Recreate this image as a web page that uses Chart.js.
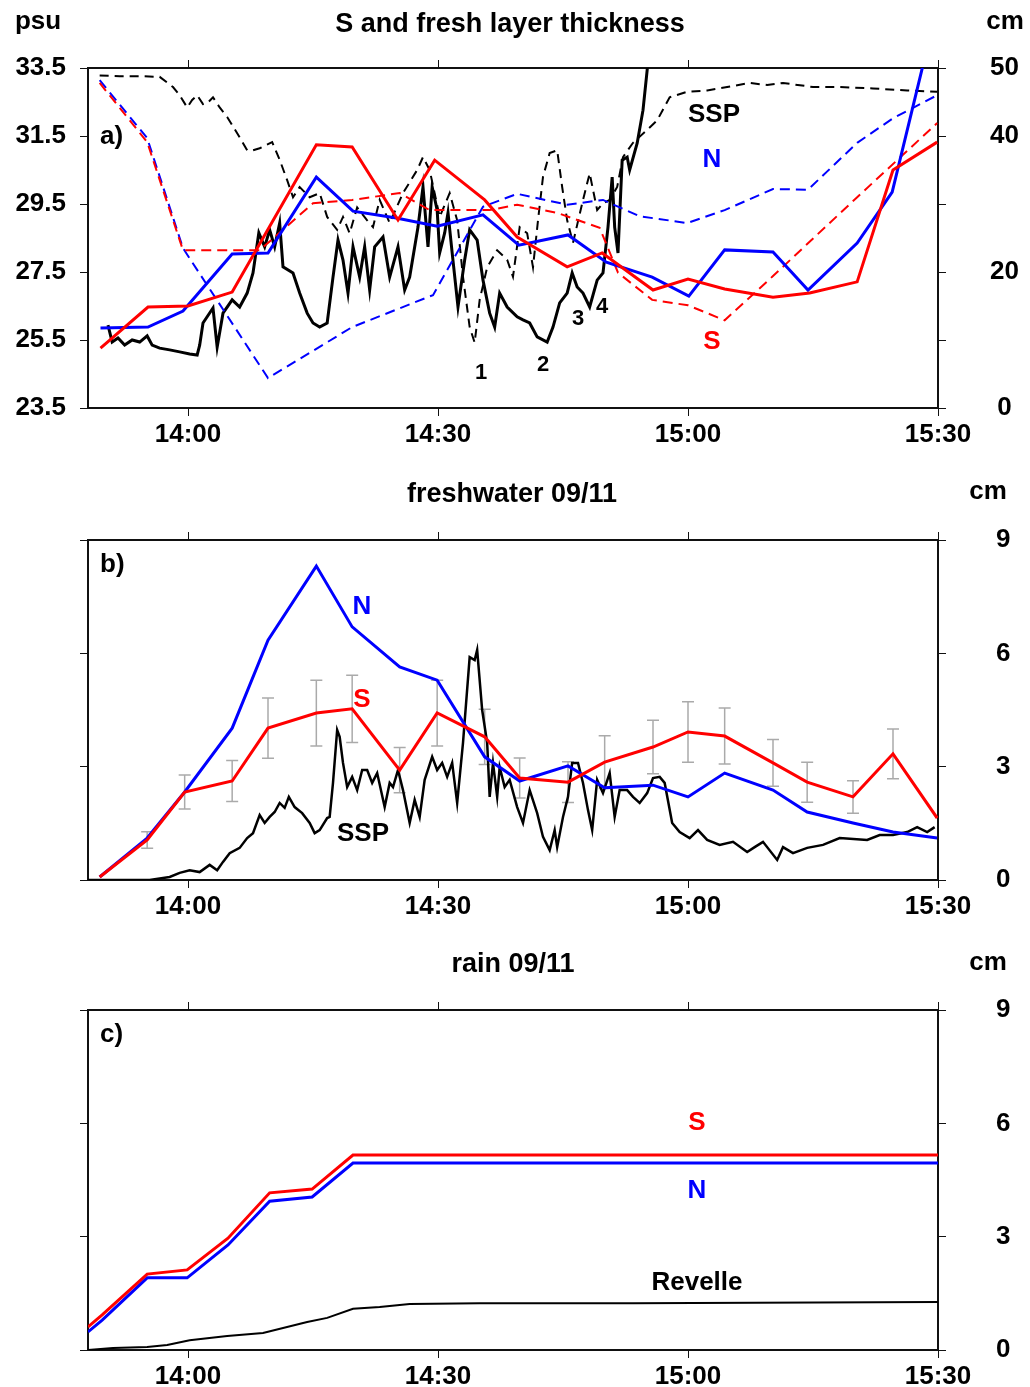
<!DOCTYPE html>
<html>
<head>
<meta charset="utf-8">
<script src="https://cdn.jsdelivr.net/npm/chart.js@4/dist/chart.umd.min.js"></script>
<style>
  body { margin: 0; background: #fff; width: 1030px; height: 1387px; position: relative; overflow: hidden; }
  canvas { position: absolute; left: 0; }
</style>
</head>
<body>
<canvas id="ca" width="1030" height="460" style="top:0"></canvas>
<canvas id="cb" width="1030" height="470" style="top:460px"></canvas>
<canvas id="cc" width="1030" height="457" style="top:930px"></canvas>
<script>
// time axis: minutes after 14:00
var timeTicks = [0, 30, 60, 90];
var timeLabels = ['14:00', '14:30', '15:00', '15:30'];
var psuTicks = [23.5, 25.5, 27.5, 29.5, 31.5, 33.5];
var cmTicksA = [0, 10, 20, 30, 40, 50];
var cmLabelsA = ['0', '', '20', '', '40', '50'];
var cmTicksB = [0, 3, 6, 9];

// a) salinity (psu) and fresh layer thickness (cm)
var aS_t = [-10.5, -4.8, 0, 5.3, 15.4, 19.7, 25.2, 29.6, 35.6, 39.5, 45.5, 49.7, 55.8, 60, 64.4, 70.2, 74.6, 80.3, 84.6, 89.9];
var aS_psu = [25.26, 26.47, 26.5, 26.91, 31.24, 31.18, 29.03, 30.79, 29.62, 28.53, 27.65, 28.06, 26.97, 27.29, 27.0, 26.76, 26.88, 27.21, 30.5, 31.32];
var aN_t = [-10.5, -4.8, -0.6, 5.3, 9.6, 15.4, 19.8, 25, 29.9, 35.4, 39.7, 45.6, 50.2, 55.7, 60.1, 64.4, 70.2, 74.4, 80.3, 84.5, 90];
var aN_psu = [25.85, 25.88, 26.35, 28.03, 28.06, 30.29, 29.29, 29.09, 28.85, 29.18, 28.29, 28.59, 27.79, 27.35, 26.79, 28.15, 28.09, 26.97, 28.35, 29.85, 35.4];
var aSd_t = [-10.6, -4.9, -0.6, 8.6, 15, 19.7, 25.4, 29, 36.2, 39.5, 44.3, 49.4, 51.6, 55.7, 60, 64.4, 70.2, 80.3, 89.9];
var aSd_cm = [47.8, 39.1, 23.2, 23.2, 30.1, 30.6, 31.6, 29.1, 29.1, 29.9, 28.7, 26.5, 19.9, 15.9, 15.1, 12.9, 19.4, 31.0, 41.9];
var aNd_t = [-10.6, -4.9, -0.6, 9.6, 19.7, 29.4, 35.4, 39.5, 45.5, 49.8, 54.2, 59.9, 64.4, 70.2, 74.4, 80.3, 84.6, 89.9];
var aNd_cm = [48.2, 39.7, 23.5, 4.4, 11.9, 16.6, 29.6, 31.5, 29.9, 30.6, 28.2, 27.2, 29.1, 32.2, 32.1, 39.0, 42.6, 46.0];
var ssp_t = [-9.6, -9.1, -8.4, -7.6, -6.7, -5.8, -4.9, -4.3, -3.4, -2.2, -1.0, 0.2, 1.1, 1.4, 1.8, 3.0, 3.5, 4.2, 5.3, 6.2,
  7.1, 7.8, 8.5, 9.2, 9.8, 10.4, 11.0, 11.4, 12.6, 13.4, 14.3, 15.0, 15.8, 16.7, 17.4, 18.0, 18.6, 19.2, 19.8, 20.6,
  21.2, 21.8, 22.4, 23.4, 24.2, 25.2, 26.0, 26.6, 27.6, 28.2, 28.8, 29.3, 29.9, 30.2, 30.8, 31.2, 31.7, 32.4, 33.2, 33.8,
  34.7, 35.4, 36.2, 36.8, 37.4, 38.3, 39.5, 40.2, 41.0, 41.9, 43.1, 43.8, 44.6, 45.5, 46.1, 46.7, 47.4, 48.2, 49.1, 49.8,
  50.4, 50.9, 51.2, 51.6, 52.1, 52.7, 53.0, 53.9, 54.6, 55.1, 55.4];
var ssp_psu = [25.94, 25.44, 25.56, 25.35, 25.5, 25.44, 25.62, 25.35, 25.26, 25.21, 25.15, 25.09, 25.06, 25.35, 26.0, 26.44, 25.29, 26.29, 26.68, 26.47,
  26.88, 27.47, 28.65, 28.24, 28.74, 28.24, 28.94, 27.65, 27.47, 26.88, 26.29, 26.0, 25.88, 26.0, 27.35, 28.44, 27.85, 26.88, 28.24, 27.35,
  28.24, 26.97, 28.24, 28.53, 27.35, 28.24, 26.97, 27.35, 28.82, 30.0, 28.24, 30.0, 29.32, 28.06, 28.65, 29.24, 28.06, 26.47, 27.85, 28.74,
  28.44, 27.26, 26.29, 25.88, 26.88, 26.47, 26.18, 26.09, 26.0, 25.59, 25.44, 25.88, 26.59, 26.88, 27.47, 27.06, 26.88, 26.47, 27.26, 27.47,
  28.82, 30.29, 28.82, 28.06, 30.79, 30.88, 30.5, 31.29, 32.26, 33.44, 34.3];
var sspd_t = [-10.6, -8.2, -5.8, -3.4, -1.8, -1.0, -0.1, 0.5, 1.1, 1.8, 2.3, 3.0, 3.8, 4.7, 5.5, 6.2, 7.1, 7.8, 8.6, 10.1,
  11.0, 11.9, 12.6, 13.4, 14.6, 15.8, 16.7, 17.9, 18.6, 19.4, 20.3, 21.5, 22.2, 23.0, 24.2, 25.8, 27.5, 28.2, 29.0, 30.2,
  31.4, 32.3, 33.0, 33.8, 34.4, 35.0, 35.9, 37.1, 38.3, 39.0, 39.8, 40.7, 41.4, 42.0, 42.6, 43.4, 44.3, 44.9, 45.5, 46.2,
  47.4, 48.2, 49.1, 49.8, 50.6, 51.5, 52.2, 53.4, 55.1, 56.3, 57.8, 59.9, 62.3, 64.7, 67.4, 69.5, 71.4, 75.0, 78.2, 82.2,
  86.3, 89.9];
var sspd_cm = [48.9, 48.8, 48.8, 48.7, 47.2, 46.0, 44.2, 45.3, 46.0, 44.7, 44.8, 45.7, 44.2, 42.8, 41.2, 39.8, 37.9, 37.9, 38.2, 39.1,
  36.5, 33.5, 31.0, 32.5, 31.0, 31.6, 28.1, 26.2, 28.1, 25.7, 29.5, 27.6, 26.6, 30.6, 27.2, 31.6, 35.0, 36.9, 35.0, 28.1,
  31.6, 27.6, 19.3, 11.9, 9.6, 15.9, 20.7, 23.2, 21.8, 19.3, 26.6, 25.7, 20.7, 27.6, 34.0, 37.5, 37.9, 32.5, 27.6, 24.3,
  30.6, 34.5, 29.1, 30.1, 30.6, 32.5, 36.9, 39.0, 40.9, 42.3, 45.7, 46.5, 46.7, 47.2, 47.8, 47.5, 47.8, 47.2, 47.2, 47.0,
  46.7, 46.5];

// b) freshwater 09/11 (cm)
var b_t = [-10.6, -4.9, -0.4, 5.3, 9.6, 15.4, 19.7, 25.4, 29.9, 35.6, 39.8, 45.6, 50.0, 55.8, 60.0, 64.4, 70.2, 74.3, 79.8, 84.6, 89.9];
var bN_cm = [0.08, 1.11, 2.33, 4.02, 6.35, 8.31, 6.70, 5.64, 5.29, 3.26, 2.62, 3.02, 2.44, 2.51, 2.20, 2.83, 2.38, 1.80, 1.51, 1.27, 1.11];
var bS_cm = [0.08, 1.06, 2.33, 2.62, 4.02, 4.42, 4.53, 2.91, 4.42, 3.79, 2.70, 2.59, 3.12, 3.52, 3.92, 3.81, 3.10, 2.59, 2.20, 3.34, 1.64];
var bS_err = [null, 0.22, 0.45, 0.54, 0.8, 0.87, 0.89, 0.6, 0.87, 0.73, 0.53, 0.54, 0.7, 0.71, 0.8, 0.74, 0.62, 0.53, 0.43, 0.66, null];
var bSSP_t = [-12, -4.6, -2.2, -1.0, 0.2, 1.4, 2.6, 3.5, 4.2, 5.0, 6.2, 7.1, 7.8, 8.6, 9.2, 9.8, 10.4, 11.0, 11.6, 12.1,
  12.8, 13.7, 14.6, 15.2, 15.8, 16.7, 17.0, 17.4, 17.9, 18.2, 18.6, 19.1, 19.7, 20.3, 20.9, 21.5, 22.1, 22.7, 23.6, 24.2,
  24.6, 25.2, 25.8, 26.6, 27.2, 27.8, 28.4, 29.3, 29.9, 30.5, 31.1, 31.7, 32.3, 33.0, 33.8, 34.4, 34.7, 35.3, 35.9, 36.2,
  36.6, 37.1, 37.4, 38.0, 38.6, 39.5, 40.2, 41.0, 41.9, 42.6, 43.4, 44.0, 44.3, 45.0, 45.6, 46.1, 46.8, 47.4, 48.0, 48.5,
  49.1, 49.8, 50.6, 51.2, 51.8, 52.7, 53.4, 54.2, 55.1, 55.8, 56.6, 57.2, 58.1, 59.0, 60.2, 61.2, 62.3, 63.8, 65.4, 67.1,
  68.0, 69.0, 70.7, 71.4, 72.6, 74.3, 76.2, 78.2, 81.5, 83.0, 84.6, 86.3, 87.5, 88.7, 89.6];
var bSSP_cm = [0, 0, 0.08, 0.19, 0.26, 0.21, 0.40, 0.26, 0.48, 0.71, 0.85, 1.11, 1.24, 1.72, 1.51, 1.67, 1.80, 2.04, 1.91, 2.20,
  1.93, 1.77, 1.51, 1.24, 1.32, 1.64, 1.67, 2.57, 3.97, 3.79, 3.10, 2.46, 2.73, 2.38, 2.91, 2.91, 2.57, 2.83, 1.93, 2.57,
  2.46, 2.91, 2.38, 1.51, 2.12, 1.67, 2.65, 3.26, 2.91, 3.10, 2.73, 3.10, 2.04, 3.63, 5.90, 5.82, 6.09, 4.50, 3.63, 2.20,
  3.10, 2.20, 2.99, 2.46, 2.65, 1.93, 1.51, 2.38, 1.77, 1.14, 0.79, 1.32, 0.87, 1.67, 2.20, 3.10, 3.10, 2.57, 1.85, 1.32,
  2.65, 2.30, 2.83, 1.67, 2.38, 2.38, 2.20, 2.04, 2.30, 2.70, 2.73, 2.57, 1.51, 1.27, 1.11, 1.32, 1.06, 0.93, 1.01, 0.74,
  0.87, 1.01, 0.53, 0.87, 0.71, 0.85, 0.93, 1.11, 1.06, 1.19, 1.19, 1.27, 1.40, 1.27, 1.40];

// c) rain 09/11 (cm)
var c_t = [-12, -10.3, -4.9, -0.1, 4.8, 9.8, 14.9, 19.8, 90];
var cS_cm = [0.61, 0.93, 2.01, 2.12, 2.96, 4.16, 4.26, 5.16, 5.16];
var cN_cm = [0.48, 0.79, 1.91, 1.91, 2.78, 3.94, 4.05, 4.95, 4.95];
var rev_t = [-12, -9, -4.9, -2.5, 0.2, 4.7, 9.0, 14.3, 16.7, 19.8, 23.0, 26.6, 35.0, 53.4, 90];
var rev_cm = [0, 0.05, 0.08, 0.13, 0.26, 0.37, 0.45, 0.74, 0.85, 1.09, 1.14, 1.22, 1.24, 1.24, 1.27];

var FONT = '"Liberation Sans", Arial, sans-serif';
var RED = '#ff0000', BLUE = '#0000ff', INK = '#111';
Chart.defaults.font.family = FONT;
Chart.defaults.color = '#000';

function pts(t, v) {
    var n = Math.min(t.length, v.length), out = [];
    for (var i = 0; i < n; i++) out.push({x: t[i], y: v[i]});
    return out;
}

function line(t, v, color, width, yAxis, dash) {
    return {
        data: pts(t, v), borderColor: color, borderWidth: width, borderDash: dash || [],
        pointRadius: 0, tension: 0, fill: false, xAxisID: 'x', yAxisID: yAxis
    };
}

var gridOpts = {drawOnChartArea: false, drawTicks: true, tickLength: 8, color: INK, lineWidth: 1};
var borderOpts = {display: true, color: INK, width: 2};
var tickFont = {size: 26, weight: 'bold'};

function fixedTicks(list) {
    return function (s) { s.ticks = list.map(function (v) { return {value: v}; }); };
}

// pin the axis box sizes so every panel has the same plot frame
function fixSize(w, h) {
    return function (s) {
        if (w != null) s.width = w;
        if (h != null) s.height = h;
        s.paddingTop = 0; s.paddingBottom = 0; s.paddingLeft = 0; s.paddingRight = 0;
    };
}

function timeScales(topH, botH) {
    return {
        x: {
            type: 'linear', position: 'bottom', min: -12, max: 90,
            afterBuildTicks: fixedTicks(timeTicks),
            ticks: {font: tickFont, padding: 3, maxRotation: 0, autoSkip: false,
                callback: function (v, i) { return timeLabels[i]; }},
            grid: gridOpts, border: borderOpts,
            afterFit: fixSize(null, botH)
        },
        xt: {
            type: 'linear', position: 'top', min: -12, max: 90,
            afterBuildTicks: fixedTicks(timeTicks),
            ticks: {display: false},
            grid: gridOpts, border: borderOpts,
            afterFit: fixSize(null, topH)
        }
    };
}

var textPlugin = {
    id: 'texts',
    afterDraw: function (chart, args, opts) {
        var ctx = chart.ctx;
        ctx.save();
        (opts.items || []).forEach(function (it) {
            ctx.font = (it.weight || 'bold') + ' ' + (it.size || 26) + 'px ' + FONT;
            ctx.fillStyle = it.color || '#000';
            ctx.textAlign = it.align || 'center';
            ctx.textBaseline = 'middle';
            ctx.fillText(it.text, it.x, it.y);
        });
        ctx.restore();
    }
};

var errPlugin = {
    id: 'errbars',
    beforeDatasetsDraw: function (chart, args, opts) {
        if (!opts.t) return;
        var xs = chart.scales.x, ys = chart.scales[opts.axis], ctx = chart.ctx;
        ctx.save();
        ctx.strokeStyle = opts.color;
        ctx.lineWidth = 1.5;
        for (var i = 0; i < opts.t.length; i++) {
            if (opts.e[i] == null) continue;
            var px = xs.getPixelForValue(opts.t[i]);
            var y1 = ys.getPixelForValue(opts.v[i] - opts.e[i]);
            var y2 = ys.getPixelForValue(opts.v[i] + opts.e[i]);
            ctx.beginPath();
            ctx.moveTo(px, y1); ctx.lineTo(px, y2);
            ctx.moveTo(px - 6, y1); ctx.lineTo(px + 6, y1);
            ctx.moveTo(px - 6, y2); ctx.lineTo(px + 6, y2);
            ctx.stroke();
        }
        ctx.restore();
    }
};
Chart.register(textPlugin, errPlugin);

function baseOptions(scales, texts, err) {
    return {
        responsive: false, animation: false, devicePixelRatio: 1,
        layout: {padding: 0, autoPadding: false},
        scales: scales,
        plugins: {legend: {display: false}, tooltip: {enabled: false}, title: {display: false},
            texts: {items: texts}, errbars: err || {}}
    };
}

// panel a
var scalesA = timeScales(68, 52);
scalesA.y = {
    position: 'left', min: 23.5, max: 33.5,
    afterBuildTicks: fixedTicks(psuTicks),
    ticks: {font: tickFont, padding: 14, callback: function (v) { return v.toFixed(1); }},
    grid: gridOpts, border: borderOpts,
    afterFit: fixSize(88, null)
};
scalesA.yr = {
    position: 'right', min: 0, max: 50,
    afterBuildTicks: fixedTicks(cmTicksA),
    ticks: {font: tickFont, padding: 44, crossAlign: 'center', callback: function (v, i) { return cmLabelsA[i]; }},
    grid: gridOpts, border: borderOpts,
    afterFit: fixSize(92, null)
};
new Chart(document.getElementById('ca'), {
    type: 'line',
    data: {datasets: [
        line(aS_t, aS_psu, RED, 3, 'y'),
        line(aN_t, aN_psu, BLUE, 3, 'y'),
        line(aSd_t, aSd_cm, RED, 2, 'yr', [10, 6]),
        line(aNd_t, aNd_cm, BLUE, 2, 'yr', [10, 6]),
        line(ssp_t, ssp_psu, '#000', 3, 'y'),
        line(sspd_t, sspd_cm, '#000', 2, 'yr', [9, 6])
    ]},
    options: baseOptions(scalesA, [
        {text: 'S and fresh layer thickness', x: 510, y: 25, size: 27},
        {text: 'psu', x: 38, y: 22},
        {text: 'cm', x: 1005, y: 22},
        {text: 'a)', x: 100, y: 137, align: 'left'},
        {text: 'SSP', x: 714, y: 115},
        {text: 'N', x: 712, y: 160, color: BLUE},
        {text: 'S', x: 712, y: 342, color: RED},
        {text: '1', x: 481, y: 373, size: 22},
        {text: '2', x: 543, y: 365, size: 22},
        {text: '3', x: 578, y: 319, size: 22},
        {text: '4', x: 602, y: 307, size: 22}
    ])
});

function cmScales(topH, botH) {
    var sc = timeScales(topH, botH);
    sc.y = {
        position: 'left', min: 0, max: 9,
        afterBuildTicks: fixedTicks(cmTicksB),
        ticks: {font: tickFont, callback: function () { return ''; }},
        grid: gridOpts, border: borderOpts,
        afterFit: fixSize(88, null)
    };
    sc.yr = {
        position: 'right', min: 0, max: 9,
        afterBuildTicks: fixedTicks(cmTicksB),
        ticks: {font: tickFont, padding: 50, crossAlign: 'center'},
        grid: gridOpts, border: borderOpts,
        afterFit: fixSize(92, null)
    };
    return sc;
}

// panel b
new Chart(document.getElementById('cb'), {
    type: 'line',
    data: {datasets: [
        line(b_t, bS_cm, RED, 3, 'yr'),
        line(b_t, bN_cm, BLUE, 3, 'yr'),
        line(bSSP_t, bSSP_cm, '#000', 2.5, 'yr')
    ]},
    options: baseOptions(cmScales(80, 50), [
        {text: 'freshwater 09/11', x: 512, y: 35, size: 27},
        {text: 'cm', x: 988, y: 32},
        {text: 'b)', x: 100, y: 105, align: 'left'},
        {text: 'N', x: 362, y: 147, color: BLUE},
        {text: 'S', x: 362, y: 240, color: RED},
        {text: 'SSP', x: 363, y: 374}
    ], {t: b_t, v: bS_cm, e: bS_err, axis: 'yr', color: '#aaaaaa'})
});

// panel c
new Chart(document.getElementById('cc'), {
    type: 'line',
    data: {datasets: [
        line(c_t, cS_cm, RED, 3, 'yr'),
        line(c_t, cN_cm, BLUE, 3, 'yr'),
        line(rev_t, rev_cm, '#000', 2, 'yr')
    ]},
    options: baseOptions(cmScales(80, 37), [
        {text: 'rain 09/11', x: 513, y: 35, size: 27},
        {text: 'cm', x: 988, y: 33},
        {text: 'c)', x: 100, y: 105, align: 'left'},
        {text: 'S', x: 697, y: 193, color: RED},
        {text: 'N', x: 697, y: 261, color: BLUE},
        {text: 'Revelle', x: 697, y: 353}
    ])
});
</script>
</body>
</html>
